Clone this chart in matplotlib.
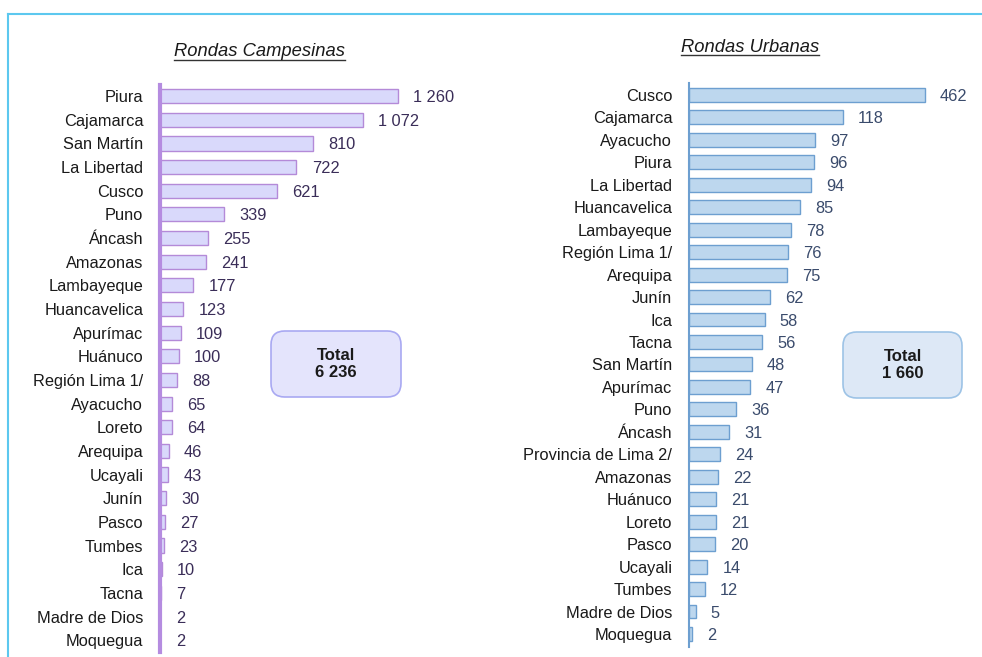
import matplotlib
matplotlib.use('Agg')
import matplotlib.pyplot as plt
from matplotlib.patches import FancyBboxPatch
from matplotlib.lines import Line2D

plt.rcParams['font.family'] = ['Liberation Sans', 'DejaVu Sans']

# ---- datos ----
camp_regiones = ['Piura', 'Cajamarca', 'San Martín', 'La Libertad', 'Cusco', 'Puno',
                 'Áncash', 'Amazonas', 'Lambayeque', 'Huancavelica', 'Apurímac',
                 'Huánuco', 'Región Lima 1/', 'Ayacucho', 'Loreto', 'Arequipa',
                 'Ucayali', 'Junín', 'Pasco', 'Tumbes', 'Ica', 'Tacna',
                 'Madre de Dios', 'Moquegua']
camp_valores = [1260, 1072, 810, 722, 621, 339, 255, 241, 177, 123, 109, 100, 88,
                65, 64, 46, 43, 30, 27, 23, 10, 7, 2, 2]
camp_total = '6 236'

urb_regiones = ['Cusco', 'Cajamarca', 'Ayacucho', 'Piura', 'La Libertad', 'Huancavelica',
                'Lambayeque', 'Región Lima 1/', 'Arequipa', 'Junín', 'Ica', 'Tacna',
                'San Martín', 'Apurímac', 'Puno', 'Áncash', 'Provincia de Lima 2/',
                'Amazonas', 'Huánuco', 'Loreto', 'Pasco', 'Ucayali', 'Tumbes',
                'Madre de Dios', 'Moquegua']
urb_valores = [462, 118, 97, 96, 94, 85, 78, 76, 75, 62, 58, 56, 48, 47, 36, 31, 24,
               22, 21, 21, 20, 14, 12, 5, 2]
urb_total = '1 660'

W, H = 982, 657
fig = plt.figure(figsize=(W / 100, H / 100), dpi=100)


def px_axes(x0, y0, x1, y1):
    # caja en pixeles (origen arriba-izquierda) -> coordenadas de figura
    return fig.add_axes([x0 / W, 1 - y1 / H, (x1 - x0) / W, (y1 - y0) / H])


def fmt(v):
    return f'{v:,}'.replace(',', ' ')


def panel(ax, regiones, valores, xmax, fill, edge, axis_col, axis_lw, val_col,
          ylim, bar_h, corte=None):
    y = list(range(len(regiones)))
    # barra recortada (eje cortado) si supera el corte
    largo = [min(v, corte) if corte else v for v in valores]
    ax.barh(y, largo, height=bar_h, color=fill, edgecolor=edge, linewidth=1)
    ax.set_xlim(0, xmax)
    ax.set_ylim(*ylim)
    ax.set_yticks(y)
    ax.set_yticklabels(regiones, fontsize=11.8, color='#1a1a1a')
    ax.tick_params(axis='y', length=0, pad=12)
    ax.set_xticks([])
    for s in ['top', 'right', 'bottom']:
        ax.spines[s].set_visible(False)
    ax.spines['left'].set_color(axis_col)
    ax.spines['left'].set_linewidth(axis_lw)
    for yi, l, v in zip(y, largo, valores):
        ax.annotate(fmt(v), (l, yi), xytext=(11, 0), textcoords='offset points',
                    va='center_baseline', ha='left', fontsize=11.8, color=val_col)


ax1 = px_axes(160, 85, 450, 652)
panel(ax1, camp_regiones, camp_valores, 1535, '#d9d9fb', '#b48ad8', '#b58ce0', 3,
      '#3a2d58', (23.5, -0.47), 0.6)

ax2 = px_axes(689, 83, 982, 647)
panel(ax2, urb_regiones, urb_valores, 225, '#bdd7ee', '#6d9fd0', '#6d9fd0', 1.5,
      '#3a4b6c', (24.58, -0.53), 0.62, corte=181)

# cajas de total
def total_box(x0, y0, x1, y1, fc, ec, txt):
    box = FancyBboxPatch((x0 / W, 1 - y1 / H), (x1 - x0) / W, (y1 - y0) / H,
                         boxstyle='round,pad=0,rounding_size=0.014',
                         transform=fig.transFigure, facecolor=fc, edgecolor=ec,
                         linewidth=1.2, mutation_aspect=W / H)
    fig.patches.append(box)
    fig.text((x0 + x1) / 2 / W, 1 - (y0 + y1) / 2 / H, 'Total\n' + txt,
             ha='center', va='center', fontsize=12, fontweight='bold',
             color='#1a1a1a', linespacing=1.1)

total_box(271, 331, 401, 397, '#e4e4fc', '#a9a9f2', camp_total)
total_box(843, 332, 962, 398, '#dde8f6', '#9dc3e6', urb_total)

# titulos subrayados
titulos = [('Rondas Campesinas', 259, 52), ('Rondas Urbanas', 750, 47)]
for t, cx, cy in titulos:
    tx = fig.text(cx / W, 1 - cy / H, t, ha='center', va='center', fontsize=13.2,
                  fontstyle='italic', color='#1a1a1a')
fig.canvas.draw()
r = fig.canvas.get_renderer()
for tx in fig.texts[-2:]:
    bb = tx.get_window_extent(r)
    yl = bb.y0 + 1
    fig.add_artist(Line2D([bb.x0 / W, bb.x1 / W], [yl / H, yl / H],
                          transform=fig.transFigure, color='#333333', linewidth=1))

# marco cian
fig.add_artist(Line2D([8 / W, 1], [1 - 14 / H, 1 - 14 / H], transform=fig.transFigure,
                      color='#5cc8ef', linewidth=1.5))
fig.add_artist(Line2D([8 / W, 8 / W], [1 - 14 / H, 0], transform=fig.transFigure,
                      color='#5cc8ef', linewidth=1.5))

fig.savefig('out.png', dpi=100)
